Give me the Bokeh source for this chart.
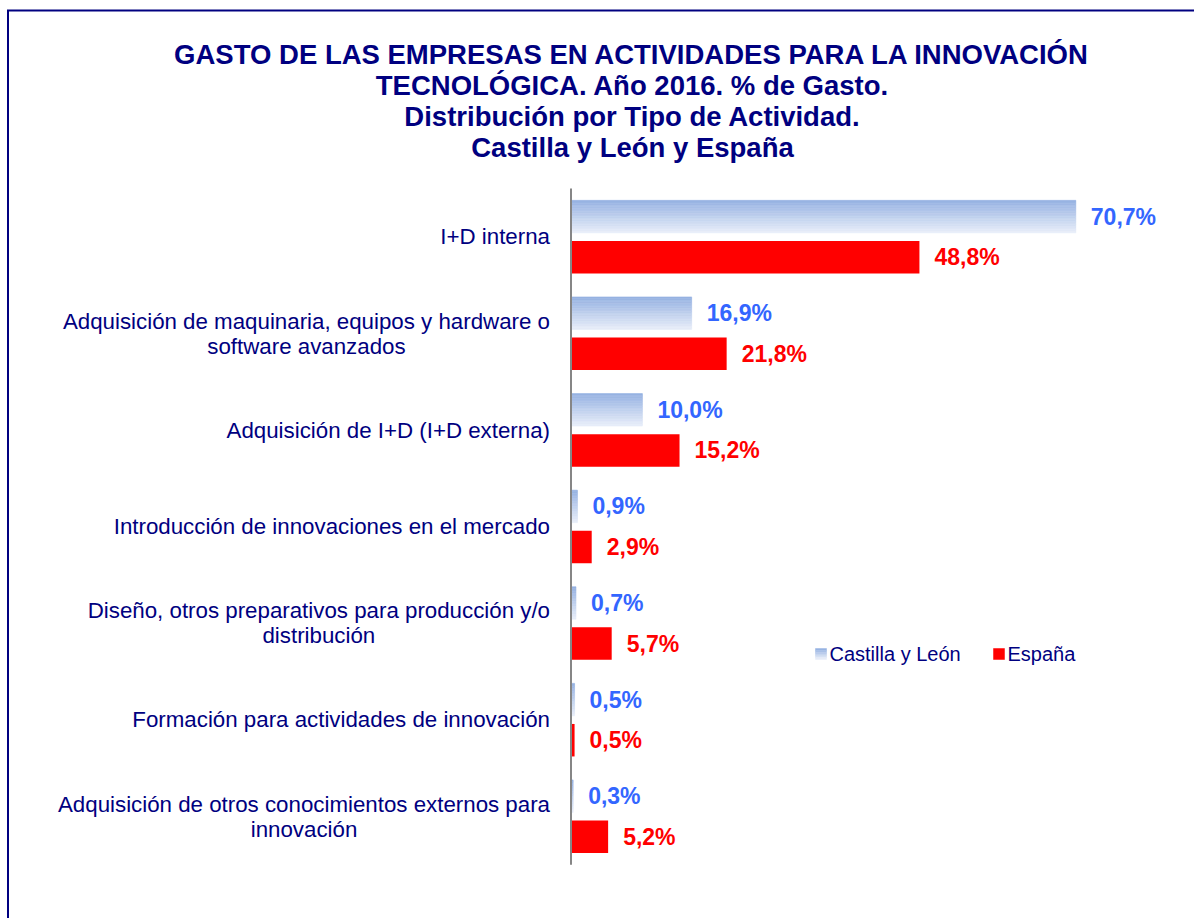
from bokeh.plotting import figure
from bokeh.models import Range1d
from bokeh.core.properties import value
from bokeh.embed import file_html
from bokeh.resources import INLINE

# ---------------- data ----------------
title_lines = [
    "GASTO DE LAS EMPRESAS EN ACTIVIDADES PARA LA INNOVACIÓN",
    "TECNOLÓGICA. Año 2016. % de Gasto.",
    "Distribución por Tipo de Actividad.",
    "Castilla y León y España",
]
categories = [
    ["I+D interna"],
    ["Adquisición de maquinaria, equipos y hardware o", "software avanzados"],
    ["Adquisición de I+D (I+D externa)"],
    ["Introducción de innovaciones en el mercado"],
    ["Diseño, otros preparativos para producción y/o", "distribución"],
    ["Formación para actividades de innovación"],
    ["Adquisición de otros conocimientos externos para", "innovación"],
]
series_names = ["Castilla y León", "España"]
cyl_values = [70.7, 16.9, 10.0, 0.9, 0.7, 0.5, 0.3]
esp_values = [48.8, 21.8, 15.2, 2.9, 5.7, 0.5, 5.2]

# ---------------- layout ----------------
W, H = 1194, 918
PX_PER_PCT = 7.14
ZERO_X = 570.5
GROUP0_Y = 236.4
GROUP_H = 96.6
BAR_H = 32.5 / GROUP_H
OFF = 20.3 / GROUP_H

NAVY = "#000080"
BLUE_TXT = "#3366FF"
RED = "#FF0000"
FONT = value("Liberation Sans")

def dx(px):
    return (px - ZERO_X) / PX_PER_PCT

def dy(py):
    return (py - GROUP0_Y) / GROUP_H

ARIAL = {' ': 278, 'a': 556, 'b': 556, 'c': 500, 'd': 556, 'e': 556, 'f': 278, 'g': 556,
         'h': 556, 'i': 222, 'j': 222, 'k': 500, 'l': 222, 'm': 833, 'n': 556, 'o': 556,
         'p': 556, 'q': 556, 'r': 333, 's': 500, 't': 278, 'u': 556, 'v': 500, 'w': 722,
         'x': 500, 'y': 500, 'z': 500, 'ñ': 556, 'ó': 556, 'á': 556, 'é': 556, 'í': 278,
         'ú': 556, ',': 278, '.': 278, '/': 278, '(': 333, ')': 333, '+': 584, 'A': 667,
         'D': 722, 'F': 611, 'I': 278, 'L': 556}

def text_width(s, size):
    return sum(ARIAL.get(ch, 556) for ch in s) / 1000.0 * size

p = figure(width=W, height=H, output_backend="svg", toolbar_location=None,
           x_range=Range1d(-ZERO_X / PX_PER_PCT, (W - ZERO_X) / PX_PER_PCT),
           y_range=Range1d((H - GROUP0_Y) / GROUP_H, -GROUP0_Y / GROUP_H),
           x_axis_location=None, y_axis_location=None, min_border=0)
p.grid.visible = False
p.outline_line_color = None
p.background_fill_color = "white"
p.border_fill_color = "white"

# gradient colours (top -> bottom)
TOP = (150, 178, 226)
BOT = (230, 236, 248)
NSL = 20
def grad(k, n):
    t = k / (n - 1)
    return "#%02x%02x%02x" % tuple(int(round(a + (b - a) * t)) for a, b in zip(TOP, BOT))

# Castilla y León bars (vertical gradient built from slices)
ys, rights, cols = [], [], []
step = BAR_H / NSL
for i, v in enumerate(cyl_values):
    for k in range(NSL):
        ys.append(i - OFF - BAR_H / 2 + (k + 0.5) * step)
        rights.append(v)
        cols.append(grad(k, NSL))
p.hbar(y=ys, left=0, right=rights, height=step, fill_color=cols, line_color=cols, line_width=0.6)

# España bars
p.hbar(y=[i + OFF for i in range(len(esp_values))], left=0, right=esp_values,
       height=BAR_H, fill_color=RED, line_color=None)

# axis line
p.segment(x0=[0], y0=[-0.5], x1=[0], y1=[len(categories) - 0.5], line_color="#868686", line_width=2)

# value labels
fmt = lambda v: ("%.1f" % v).replace(".", ",") + "%"
p.text(x=cyl_values, y=[i - OFF for i in range(len(cyl_values))], text=[fmt(v) for v in cyl_values],
       x_offset=15, text_align="left", text_baseline="middle", text_font=FONT,
       text_font_size="23px", text_font_style="bold", text_color=BLUE_TXT)
p.text(x=esp_values, y=[i + OFF for i in range(len(esp_values))], text=[fmt(v) for v in esp_values],
       x_offset=15, text_align="left", text_baseline="middle", text_font=FONT,
       text_font_size="23px", text_font_style="bold", text_color=RED)

# category labels
LBL_SIZE = 22.3
GAP = 21
LINE_H = 25
tx, ty, tt, talign = [], [], [], []
for i, lines in enumerate(categories):
    if len(lines) == 1:
        tx.append(-GAP / PX_PER_PCT); ty.append(i); tt.append(lines[0]); talign.append("right")
    else:
        wmax = max(text_width(s, LBL_SIZE) for s in lines)
        cx = -(GAP + wmax / 2) / PX_PER_PCT
        n = len(lines)
        for j, s in enumerate(lines):
            tx.append(cx)
            ty.append(i + (j - (n - 1) / 2) * LINE_H / GROUP_H)
            tt.append(s)
            talign.append("center")
p.text(x=tx, y=ty, text=tt, text_align=talign, text_baseline="middle", text_font=FONT,
       text_font_size="%.1fpx" % LBL_SIZE, text_color=NAVY)

# title
title_mid = [53.6, 84.8, 116.2, 147.3]
p.text(x=[dx(632)] * len(title_lines), y=[dy(b) for b in title_mid], text=title_lines,
       text_align="center", text_baseline="middle", text_font=FONT,
       text_font_size="27.5px", text_font_style="bold", text_color=NAVY)

# legend (manual)
leg_y = 653.5
sq = 11
def legend_square(px, colors):
    n = len(colors)
    top = leg_y - sq / 2
    h = sq / n
    p.quad(left=[dx(px)] * n, right=[dx(px + sq)] * n,
           top=[dy(top + k * h) for k in range(n)], bottom=[dy(top + (k + 1) * h) for k in range(n)],
           fill_color=colors, line_color=colors, line_width=0.5)
legend_square(815, [grad(k, 6) for k in range(6)])
legend_square(993, [RED])
p.text(x=[dx(829), dx(1007)], y=[dy(leg_y)] * 2, text=series_names, text_align="left",
       text_baseline="middle", text_font=FONT, text_font_size="20px", text_color=NAVY)

# chart border (left and top edges visible in window)
BX, BY = 7.5, 10
p.segment(x0=[dx(BX - 1), dx(BX)], y0=[dy(BY), dy(BY)], x1=[dx(W + 20), dx(BX)], y1=[dy(BY), dy(H + 20)],
          line_color=NAVY, line_width=2)

open("out.html", "w").write(file_html(p, INLINE))
